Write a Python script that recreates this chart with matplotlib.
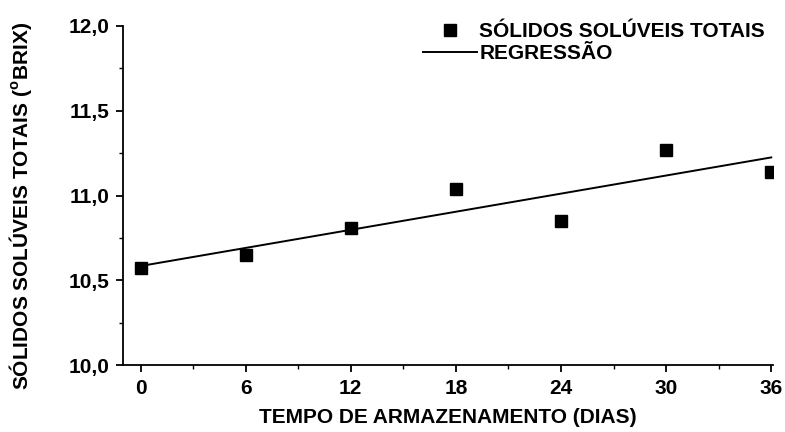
import numpy as np
import matplotlib.pyplot as plt
from matplotlib.ticker import MultipleLocator, FuncFormatter

# dados
dias = [0, 6, 12, 18, 24, 30, 36]
sst = [10.57, 10.65, 10.81, 11.04, 10.85, 11.27, 11.14]

X_TICKS = [0, 6, 12, 18, 24, 30, 36]
Y_TICKS = [10.0, 10.5, 11.0, 11.5, 12.0]

plt.rcParams["font.family"] = ["Liberation Sans", "DejaVu Sans"]
plt.rcParams["font.weight"] = "bold"
plt.rcParams["mathtext.fontset"] = "custom"
plt.rcParams["mathtext.rm"] = "Liberation Sans:bold"
plt.rcParams["mathtext.bf"] = "Liberation Sans:bold"


def main():
    # regressão linear
    coef = np.polyfit(dias, sst, 1)
    x_fit = np.array([min(dias), max(dias)])
    y_fit = np.polyval(coef, x_fit)

    fig = plt.figure(figsize=(7.85, 4.32), dpi=100)
    ax = fig.add_axes([123 / 785, 1 - 365 / 432, 650 / 785, 339 / 432])

    ax.plot(dias, sst, "s", color="black", markersize=8.5, linestyle="none",
            label="SÓLIDOS SOLÚVEIS TOTAIS")
    ax.plot(x_fit, y_fit, "-", color="black", linewidth=1.4, label="REGRESSÃO")

    ax.set_xlim(-1, 36.1)
    ax.set_ylim(10.0, 12.0)
    ax.set_xticks(X_TICKS)
    ax.set_yticks(Y_TICKS)
    ax.xaxis.set_minor_locator(MultipleLocator(3))
    ax.yaxis.set_minor_locator(MultipleLocator(0.25))
    ax.yaxis.set_major_formatter(FuncFormatter(lambda v, p: f"{v:.1f}".replace(".", ",")))

    ax.spines["top"].set_visible(False)
    ax.spines["right"].set_visible(False)
    ax.spines["left"].set_linewidth(1.3)
    ax.spines["bottom"].set_linewidth(1.3)

    ax.tick_params(which="major", direction="out", length=5, width=1.3,
                   labelsize=15, pad=5)
    ax.tick_params(which="minor", direction="out", length=3, width=1.0)
    for lab in ax.get_xticklabels() + ax.get_yticklabels():
        lab.set_fontweight("bold")

    ax.set_xlabel("TEMPO DE ARMAZENAMENTO (DIAS)", fontsize=15, fontweight="bold")
    ax.set_ylabel(r"SÓLIDOS SOLÚVEIS TOTAIS ($^{\mathrm{o}}$BRIX)", fontsize=15,
                  fontweight="bold")
    ax.xaxis.set_label_coords(0.5, -0.128)
    ax.yaxis.set_label_coords(-0.137, 0.47)

    fig.legend(*ax.get_legend_handles_labels(), loc="upper left",
               bbox_to_anchor=(423 / 785, 1 - 22 / 432), frameon=False,
               borderpad=0, borderaxespad=0,
               handlelength=2.6, handletextpad=0.1, labelspacing=0.15,
               prop={"weight": "bold", "size": 15})

    fig.savefig("out.png", dpi=100)
    plt.close(fig)


if __name__ == "__main__":
    main()
